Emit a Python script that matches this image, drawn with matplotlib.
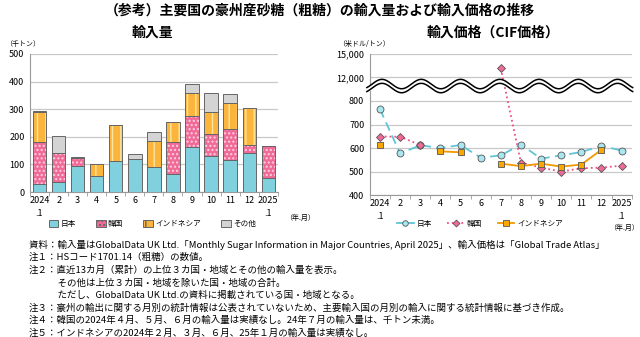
import numpy as np
import matplotlib
matplotlib.use("Agg")
import matplotlib.pyplot as plt
from matplotlib.patches import Patch
from matplotlib.lines import Line2D

plt.rcParams["font.family"] = ["Noto Sans CJK JP", "DejaVu Sans"]
plt.rcParams["hatch.linewidth"] = 1.0

months = ["2024\n.1", "2", "3", "4", "5", "6", "7", "8", "9", "10", "11", "12", "2025\n.1"]

# import volume (thousand tonnes)
jp_vol = [30, 35, 95, 57, 112, 118, 92, 65, 162, 132, 115, 142, 50]
kr_vol = [150, 105, 30, 0, 0, 0, 0, 118, 112, 80, 113, 28, 115]
id_vol = [110, 0, 0, 43, 131, 0, 92, 70, 84, 78, 95, 133, 0]
ot_vol = [2, 62, 2, 1, 1, 20, 33, 1, 32, 68, 32, 2, 1]

# import price CIF (USD/tonne)
nan = np.nan
jp_price = [765, 577, 612, 600, 613, 559, 569, 615, 555, 569, 583, 610, 589]
kr_price = [649, 648, 613, nan, nan, nan, 13150, 538, 517, 500, 514, 517, 525]
id_price = [611, nan, nan, 586, 582, nan, 534, 523, 534, 521, 530, 593, nan]

c_jp, c_kr, c_id, c_ot = "#80d0de", "#f06a98", "#fbb53c", "#d4d4d4"
edge = "#666666"


def squash(v):
    # broken axis: values above 800 are drawn on a 12,000-15,000 band
    v = np.asarray(v, dtype=float)
    return np.where(v > 800, 900 + (v - 12000) / 3000 * 100, v)


fig = plt.figure(figsize=(6.4, 3.37), dpi=100)

fig.text(0.5, 0.968, "（参考）主要国の豪州産砂糖（粗糖）の輸入量および輸入価格の推移",
         ha="center", va="center", fontsize=10, fontweight="bold")
fig.text(0.238, 0.902, "輸入量", ha="center", va="center", fontsize=10, fontweight="bold")
fig.text(0.77, 0.902, "輸入価格（CIF価格）", ha="center", va="center", fontsize=10, fontweight="bold")
fig.text(0.008, 0.868, "（千トン）", ha="left", va="center", fontsize=5)
fig.text(0.528, 0.868, "（米ドル/トン）", ha="left", va="center", fontsize=5)

x = np.arange(len(months))

# ---- left: volume
ax1 = fig.add_axes([0.047, 0.430, 0.387, 0.410])
bottom = np.zeros(len(x))
for vals, col, hatch, hcol in [(jp_vol, c_jp, None, c_jp),
                              (kr_vol, c_kr, "....", "#ffd0e0"),
                              (id_vol, c_id, "||", "#ffe6a0"),
                              (ot_vol, c_ot, None, c_ot)]:
    vals = np.array(vals, dtype=float)
    ax1.bar(x, vals, 0.7, bottom=bottom, color=col, hatch=hatch,
            edgecolor=hcol, linewidth=0, zorder=3)
    ax1.bar(x, vals, 0.7, bottom=bottom, fill=False,
            edgecolor=edge, linewidth=0.7, zorder=4)
    bottom += vals

ax1.set_xlim(-0.5, 12.5)
ax1.set_ylim(0, 500)
ax1.set_yticks(range(0, 501, 100))
ax1.grid(axis="y", color="#c8c8c8", linewidth=0.9, zorder=0)

# ---- right: price
ax2 = fig.add_axes([0.578, 0.421, 0.409, 0.419])
ax2.plot(x, squash(jp_price), ls=(0, (5, 3)), color="#5ec6d6", lw=1.3,
         marker="o", ms=5, mfc="#a9e6f0", mec="#555555", mew=0.6, zorder=3)
ax2.plot(x, squash(kr_price), ls=":", color="#f0508a", lw=1.3,
         marker="D", ms=4.5, mfc="#f06a98", mec="#555555", mew=0.6, zorder=4)
ax2.plot(x, squash(id_price), ls="-", color="#f39800", lw=1.3,
         marker="s", ms=5, mfc="#f9a800", mec="#555555", mew=0.6, zorder=5)

ax2.set_xlim(-0.5, 12.5)
ax2.set_ylim(400, 1000)
ax2.set_yticks([400, 500, 600, 700, 800, 900, 1000])
ax2.set_yticklabels(["400", "500", "600", "700", "800", "12,000", "15,000"])
ax2.grid(axis="y", color="#c8c8c8", linewidth=0.9, zorder=0)

# wavy break marks
xw = np.linspace(-0.65, 12.55, 400)
phase = 2 * np.pi * (xw - 0.1) / 1.95
w_up = 872 + 20 * np.cos(phase)
w_lo = 855 + 20 * np.cos(phase)
ax2.fill_between(xw, w_lo, w_up, color="white", zorder=6, clip_on=False)
ax2.plot(xw, w_up, color="black", lw=1.1, zorder=7, clip_on=False)
ax2.plot(xw, w_lo, color="black", lw=1.1, zorder=7, clip_on=False)

for ax in (ax1, ax2):
    for s in ("top", "right"):
        ax.spines[s].set_visible(False)
    for s in ("left", "bottom"):
        ax.spines[s].set_color("#999999")
        ax.spines[s].set_linewidth(0.8)
    ax.set_xticks(x)
    ax.set_xticklabels(months, fontsize=6.5, va="top", linespacing=1.6)
    ax.set_xticks(np.arange(-0.5, 13, 1), minor=True)
    ax.tick_params(axis="x", which="major", length=0, pad=3)
    ax.tick_params(axis="x", which="minor", length=3, color="#999999")
    ax.tick_params(axis="y", length=0, labelsize=6.5, pad=4)
    ax.set_axisbelow(True)

fig.text(0.445, 0.352, "（年.月）", ha="left", va="center", fontsize=5)
fig.text(0.998, 0.325, "（年.月）", ha="right", va="center", fontsize=5)

# legends
h1 = [Patch(facecolor=c_jp, edgecolor=edge, lw=0.7),
      Patch(facecolor=c_kr, edgecolor=edge, lw=0.7, hatch="...."),
      Patch(facecolor=c_id, edgecolor=edge, lw=0.7, hatch="||"),
      Patch(facecolor=c_ot, edgecolor=edge, lw=0.7)]
fig.legend(h1, ["日本", "韓国", "インドネシア", "その他"], loc="center",
           bbox_to_anchor=(0.238, 0.336), ncol=4, frameon=False, fontsize=5.5,
           handlelength=1.3, handleheight=1.1, handletextpad=0.3, columnspacing=2.6)
h2 = [Line2D([], [], color="#5ec6d6", ls="-", lw=1.3, marker="o", ms=4,
             mfc="#a9e6f0", mec="#555555", mew=0.6),
      Line2D([], [], color="#f0508a", ls=":", lw=1.3, marker="D", ms=3.5,
             mfc="#f06a98", mec="#555555", mew=0.6),
      Line2D([], [], color="#f39800", ls="-", lw=1.3, marker="s", ms=4,
             mfc="#f9a800", mec="#555555", mew=0.6)]
fig.legend(h2, ["日本", "韓国", "インドネシア"], loc="center",
           bbox_to_anchor=(0.75, 0.336), ncol=3, frameon=False, fontsize=5.5,
           handlelength=2.2, handletextpad=0.4, columnspacing=2.0)

notes = [
    "資料：輸入量はGlobalData UK Ltd.「Monthly Sugar Information in Major Countries, April 2025」、輸入価格は「Global Trade Atlas」",
    "注１：HSコード1701.14（粗糖）の数値。",
    "注２：直近13カ月（累計）の上位３カ国・地域とその他の輸入量を表示。",
    "　　　その他は上位３カ国・地域を除いた国・地域の合計。",
    "　　　ただし、GlobalData UK Ltd.の資料に掲載されている国・地域となる。",
    "注３：豪州の輸出に関する月別の統計情報は公表されていないため、主要輸入国の月別の輸入に関する統計情報に基づき作成。",
    "注４：韓国の2024年４月、５月、６月の輸入量は実績なし。24年７月の輸入量は、千トン未満。",
    "注５：インドネシアの2024年２月、３月、６月、25年１月の輸入量は実績なし。",
]
for i, t in enumerate(notes):
    fig.text(0.045, 1 - (245 + i * 12.6) / 337, t, ha="left", va="center", fontsize=6.8)

fig.savefig("out.png", dpi=100)
